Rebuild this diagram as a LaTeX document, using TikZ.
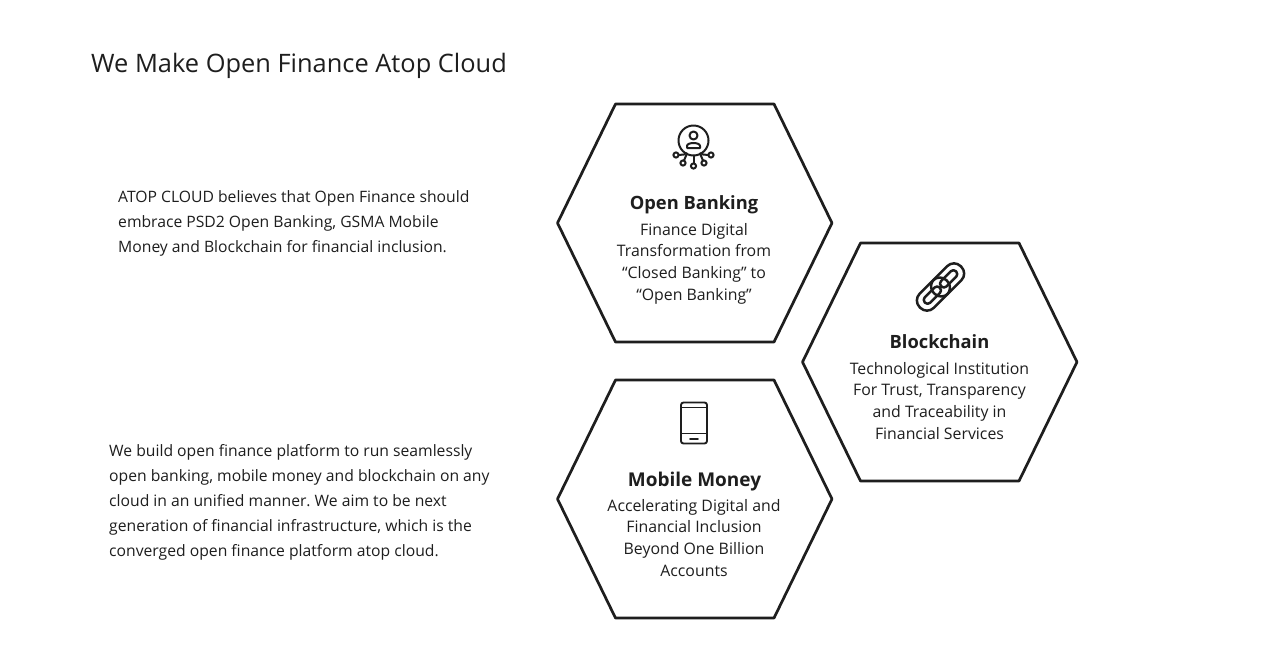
\documentclass[tikz,border=0pt]{standalone}
\usepackage{fontspec}
\setmainfont{Open Sans}
\frenchspacing
\definecolor{ink}{HTML}{1E1E1E}
\tikzset{
  x=1pt,y=-1pt,
  hexa/.style={draw=ink,line width=2.7pt,line join=round},
  icon/.style={draw=ink,line width=2pt,line cap=round,line join=round},
  title/.style={anchor=base west,inner sep=0,text=ink,font=\fontsize{25.4}{32}\selectfont},
  para/.style={anchor=north west,inner sep=0,text=ink,align=left,font=\fontsize{15.7}{25}\selectfont},
  head/.style={anchor=base,inner sep=0,text=ink,font=\fontsize{18.3}{24}\selectfont\bfseries},
  body/.style={anchor=north,inner sep=0,text=ink,align=center,font=\fontsize{15.85}{21.6}\selectfont},
}
\newcommand{\hexagon}[3]{%
  \begin{scope}[shift={(#1,#2)}]
    \coordinate (#3a) at (-137,0); \coordinate (#3b) at (-79,-119);
    \coordinate (#3c) at (79.5,-119); \coordinate (#3d) at (137.5,0);
    \coordinate (#3e) at (79.5,119); \coordinate (#3f) at (-79,119);
    \draw[hexa] (#3a)--(#3b)--(#3c)--(#3d)--(#3e)--(#3f)--cycle;
  \end{scope}}
\begin{document}
\begin{tikzpicture}
\useasboundingbox (0,0) rectangle (1280,670);
\fill[white] (0,0) rectangle (1280,670);
\node[title] (t) at (91,72) {We Make Open Finance Atop Cloud};
\node[para] (p1) at (118,190) {ATOP CLOUD believes that Open Finance should\\embrace PSD2 Open Banking, GSMA Mobile\\Money and Blockchain for financial inclusion.};
\node[para] (p2) at (109,444) {We build open finance platform to run seamlessly\\open banking, mobile money and blockchain on any\\cloud in an unified manner. We aim to be next\\generation of financial infrastructure, which is the\\converged open finance platform atop cloud.};
\hexagon{694.5}{223}{A}
\hexagon{939.5}{362}{B}
\hexagon{694.5}{499}{C}
\node[head] (h1) at (694,209) {Open Banking};
\node[body] (b1) at (694,223) {Finance Digital\\Transformation from\\“Closed Banking” to\\“Open Banking”};
\node[head] (h2) at (939.5,348) {Blockchain};
\node[body] (b2) at (939.5,362) {Technological Institution\\For Trust, Transparency\\and Traceability in\\Financial Services};
\node[head,font=\fontsize{19}{24}\selectfont\bfseries] (h3) at (694.5,486) {Mobile Money};
\node[body] (b3) at (694,499) {Accelerating Digital and\\Financial Inclusion\\Beyond One Billion\\Accounts};
% person network icon
\begin{scope}[icon]
  \draw (693.5,140.5) circle (15);
  \draw (693.5,135.5) circle (4);
  \draw (687,148) -- (687,146) .. controls (687,142) and (700,142) .. (700,146) -- (700,148) -- cycle;
  \foreach \x/\y in {676/155,683/163,693.5/166,704/163,711/155} \draw (\x,\y) circle (2.6);
  \draw (693.5,155.5) -- (693.5,163.4);
  \draw (678.6,155) -- (684,154.5) -- (686,153);
  \draw (708.4,155) -- (703,154.5) -- (701,153);
  \draw (684,160.5) -- (687,153.5);
  \draw (703,160.5) -- (700,153.5);
\end{scope}
% chain icon
\begin{scope}[shift={(940.5,287)},rotate=45,icon,line width=2.5pt]
  \draw[rounded corners=9.5] (-9,-10) rectangle (29,10);
  \draw[rounded corners=3.5] (1,-3.8) rectangle (22,3.8);
  \draw[rounded corners=9.5] (-29,-10) rectangle (9,10);
  \draw[rounded corners=3.5] (-22,-3.8) rectangle (-1,3.8);
\end{scope}
% phone icon
\begin{scope}[icon,line width=1.9pt]
  \draw[rounded corners=2.5] (681,402.5) rectangle (707,443.5);
  \draw (681,407.5) -- (707,407.5);
  \draw (681,433.5) -- (707,433.5);
  \draw (690,439) -- (698,439);
\end{scope}
\end{tikzpicture}
\end{document}
